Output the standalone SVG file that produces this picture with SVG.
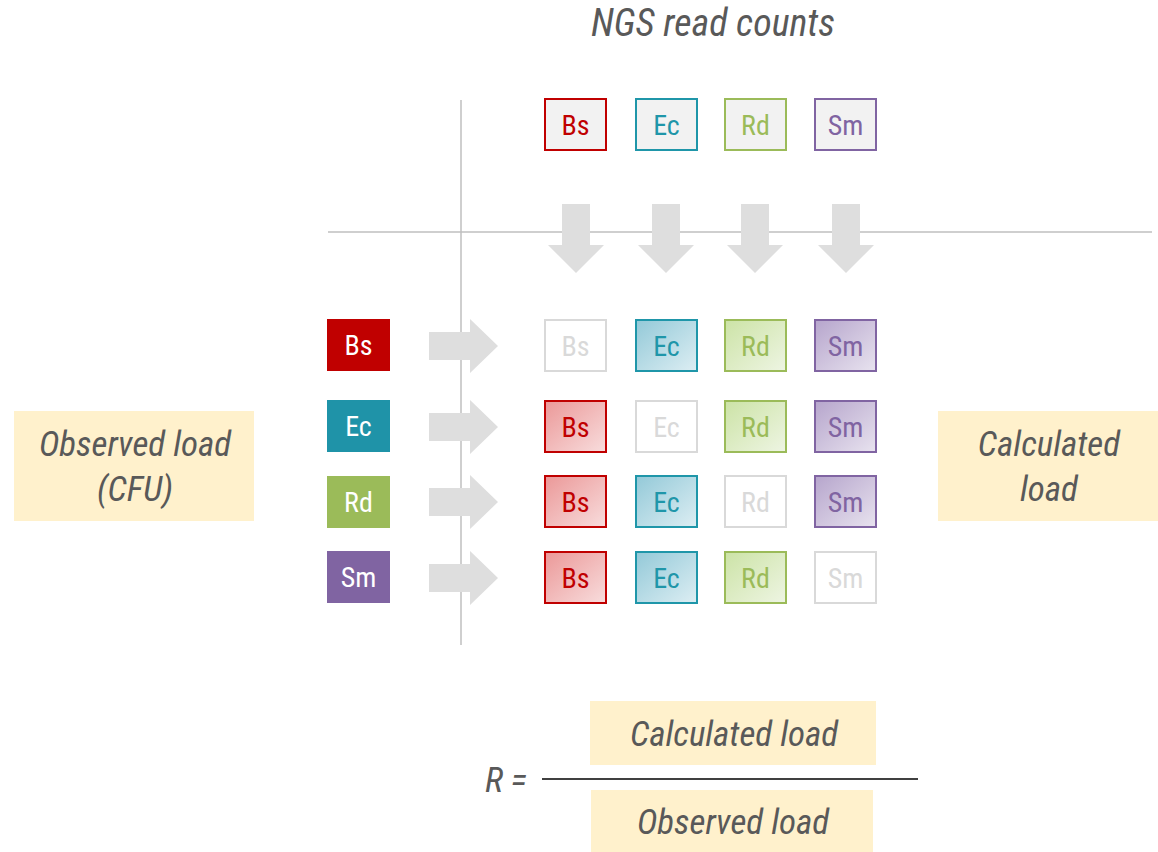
<svg xmlns="http://www.w3.org/2000/svg" width="1158" height="852" viewBox="0 0 1158 852">
  <style>
    text { font-family: "Liberation Sans Narrow", "Roboto Condensed", "Liberation Sans", Arial, sans-serif; }
    .lbl { font-size: 28px; text-anchor: middle; dominant-baseline: central; }
    .cap { font-size: 35px; font-style: italic; fill: #595959; text-anchor: middle; }
    .note { fill: #fff1cc; }
    .rule { stroke: #bfbfbf; stroke-width: 1.5; fill: none; }
    .arrow { fill: #dedede; }
    .box { stroke-width: 2; }
    .off { fill: #ffffff; stroke: #d9d9d9; }
    .off + text { fill: #d9d9d9; }
  </style>
  <defs>
    <linearGradient id="gBs" x1="0" y1="0" x2="1" y2="1">
      <stop offset="0" stop-color="#eb9898"/>
      <stop offset="1" stop-color="#f8dddd"/>
    </linearGradient>
    <linearGradient id="gEc" x1="0" y1="0" x2="1" y2="1">
      <stop offset="0" stop-color="#93c9d8"/>
      <stop offset="1" stop-color="#ddeef3"/>
    </linearGradient>
    <linearGradient id="gRd" x1="0" y1="0" x2="1" y2="1">
      <stop offset="0" stop-color="#cce3a6"/>
      <stop offset="1" stop-color="#eef5e3"/>
    </linearGradient>
    <linearGradient id="gSm" x1="0" y1="0" x2="1" y2="1">
      <stop offset="0" stop-color="#b6a5cc"/>
      <stop offset="1" stop-color="#e8e3ef"/>
    </linearGradient>
    <path id="down" d="M-14 0 H14 V41 H28 L0 69 L-28 41 H-14 Z"/>
    <path id="right" d="M0 -14 H41 V-27 L69 0 L41 27 V14 H0 Z"/>
  </defs>

  <!-- axis rules -->
  <g id="rules">
    <line class="rule" x1="328" y1="232" x2="1152" y2="232"/>
    <line class="rule" x1="461" y1="100" x2="461" y2="645"/>
  </g>

  <!-- title -->
  <text class="cap" x="713" y="36" style="font-size:38px">NGS read counts</text>

  <!-- connectors: broad grey arrows -->
  <g id="connectors" class="arrow">
    <use href="#down" x="576" y="204"/>
    <use href="#down" x="666" y="204"/>
    <use href="#down" x="755" y="204"/>
    <use href="#down" x="846" y="204"/>
    <use href="#right" x="429" y="346"/>
    <use href="#right" x="429" y="427"/>
    <use href="#right" x="429" y="502"/>
    <use href="#right" x="429" y="578"/>
  </g>

  <!-- read-count header -->
  <g id="ngs-Bs"><rect class="box" x="545" y="99" width="61" height="51" fill="#f2f2f2" stroke="#c00000"/><text class="lbl" x="575.5" y="125" fill="#c00000">Bs</text></g>
  <g id="ngs-Ec"><rect class="box" x="636" y="99" width="61" height="51" fill="#f2f2f2" stroke="#1f96a9"/><text class="lbl" x="666.5" y="125" fill="#1f96a9">Ec</text></g>
  <g id="ngs-Rd"><rect class="box" x="725" y="99" width="61" height="51" fill="#f2f2f2" stroke="#9bbb59"/><text class="lbl" x="755.5" y="125" fill="#9bbb59">Rd</text></g>
  <g id="ngs-Sm"><rect class="box" x="815" y="99" width="61" height="51" fill="#f2f2f2" stroke="#8064a2"/><text class="lbl" x="845.5" y="125" fill="#8064a2">Sm</text></g>

  <!-- observed (CFU) row headers -->
  <g id="cfu-Bs"><rect x="327" y="319" width="63" height="52" fill="#c00000"/><text class="lbl" x="358.5" y="345" fill="#ffffff">Bs</text></g>
  <g id="cfu-Ec"><rect x="327" y="400" width="63" height="52" fill="#1f93a8"/><text class="lbl" x="358.5" y="426" fill="#ffffff">Ec</text></g>
  <g id="cfu-Rd"><rect x="327" y="476" width="63" height="52" fill="#9bbb59"/><text class="lbl" x="358.5" y="502" fill="#ffffff">Rd</text></g>
  <g id="cfu-Sm"><rect x="327" y="551" width="63" height="52" fill="#8064a2"/><text class="lbl" x="358.5" y="577" fill="#ffffff">Sm</text></g>

  <!-- row 1 -->
  <g id="r1-Bs"><rect class="box off" x="545" y="320" width="61" height="51"/><text class="lbl" x="575.5" y="346">Bs</text></g>
  <g id="r1-Ec"><rect class="box" x="636" y="320" width="61" height="51" fill="url(#gEc)" stroke="#1f96a9"/><text class="lbl" x="666.5" y="346" fill="#1f96a9">Ec</text></g>
  <g id="r1-Rd"><rect class="box" x="725" y="320" width="61" height="51" fill="url(#gRd)" stroke="#9bbb59"/><text class="lbl" x="755.5" y="346" fill="#9bbb59">Rd</text></g>
  <g id="r1-Sm"><rect class="box" x="815" y="320" width="61" height="51" fill="url(#gSm)" stroke="#8064a2"/><text class="lbl" x="845.5" y="346" fill="#8064a2">Sm</text></g>

  <!-- row 2 -->
  <g id="r2-Bs"><rect class="box" x="545" y="401" width="61" height="51" fill="url(#gBs)" stroke="#c00000"/><text class="lbl" x="575.5" y="427" fill="#c00000">Bs</text></g>
  <g id="r2-Ec"><rect class="box off" x="636" y="401" width="61" height="51"/><text class="lbl" x="666.5" y="427">Ec</text></g>
  <g id="r2-Rd"><rect class="box" x="725" y="401" width="61" height="51" fill="url(#gRd)" stroke="#9bbb59"/><text class="lbl" x="755.5" y="427" fill="#9bbb59">Rd</text></g>
  <g id="r2-Sm"><rect class="box" x="815" y="401" width="61" height="51" fill="url(#gSm)" stroke="#8064a2"/><text class="lbl" x="845.5" y="427" fill="#8064a2">Sm</text></g>

  <!-- row 3 -->
  <g id="r3-Bs"><rect class="box" x="545" y="476" width="61" height="51" fill="url(#gBs)" stroke="#c00000"/><text class="lbl" x="575.5" y="502" fill="#c00000">Bs</text></g>
  <g id="r3-Ec"><rect class="box" x="636" y="476" width="61" height="51" fill="url(#gEc)" stroke="#1f96a9"/><text class="lbl" x="666.5" y="502" fill="#1f96a9">Ec</text></g>
  <g id="r3-Rd"><rect class="box off" x="725" y="476" width="61" height="51"/><text class="lbl" x="755.5" y="502">Rd</text></g>
  <g id="r3-Sm"><rect class="box" x="815" y="476" width="61" height="51" fill="url(#gSm)" stroke="#8064a2"/><text class="lbl" x="845.5" y="502" fill="#8064a2">Sm</text></g>

  <!-- row 4 -->
  <g id="r4-Bs"><rect class="box" x="545" y="552" width="61" height="51" fill="url(#gBs)" stroke="#c00000"/><text class="lbl" x="575.5" y="578" fill="#c00000">Bs</text></g>
  <g id="r4-Ec"><rect class="box" x="636" y="552" width="61" height="51" fill="url(#gEc)" stroke="#1f96a9"/><text class="lbl" x="666.5" y="578" fill="#1f96a9">Ec</text></g>
  <g id="r4-Rd"><rect class="box" x="725" y="552" width="61" height="51" fill="url(#gRd)" stroke="#9bbb59"/><text class="lbl" x="755.5" y="578" fill="#9bbb59">Rd</text></g>
  <g id="r4-Sm"><rect class="box off" x="815" y="552" width="61" height="51"/><text class="lbl" x="845.5" y="578">Sm</text></g>

  <!-- side labels -->
  <g id="observed">
    <rect class="note" x="14" y="411" width="240" height="110"/>
    <text class="cap" x="135" y="456">Observed load</text>
    <text class="cap" x="135" y="501">(CFU)</text>
  </g>
  <g id="calculated">
    <rect class="note" x="938" y="411" width="220" height="110"/>
    <text class="cap" x="1049" y="456">Calculated</text>
    <text class="cap" x="1049" y="501">load</text>
  </g>

  <!-- ratio formula -->
  <g id="formula">
    <text class="cap" x="506" y="792">R =</text>
    <line x1="542" y1="779" x2="918" y2="779" stroke="#000000" stroke-width="1.5"/>
    <rect class="note" x="590" y="701" width="286" height="64"/>
    <text class="cap" x="734" y="746">Calculated load</text>
    <rect class="note" x="591" y="790" width="282" height="62"/>
    <text class="cap" x="733" y="834">Observed load</text>
  </g>
</svg>
